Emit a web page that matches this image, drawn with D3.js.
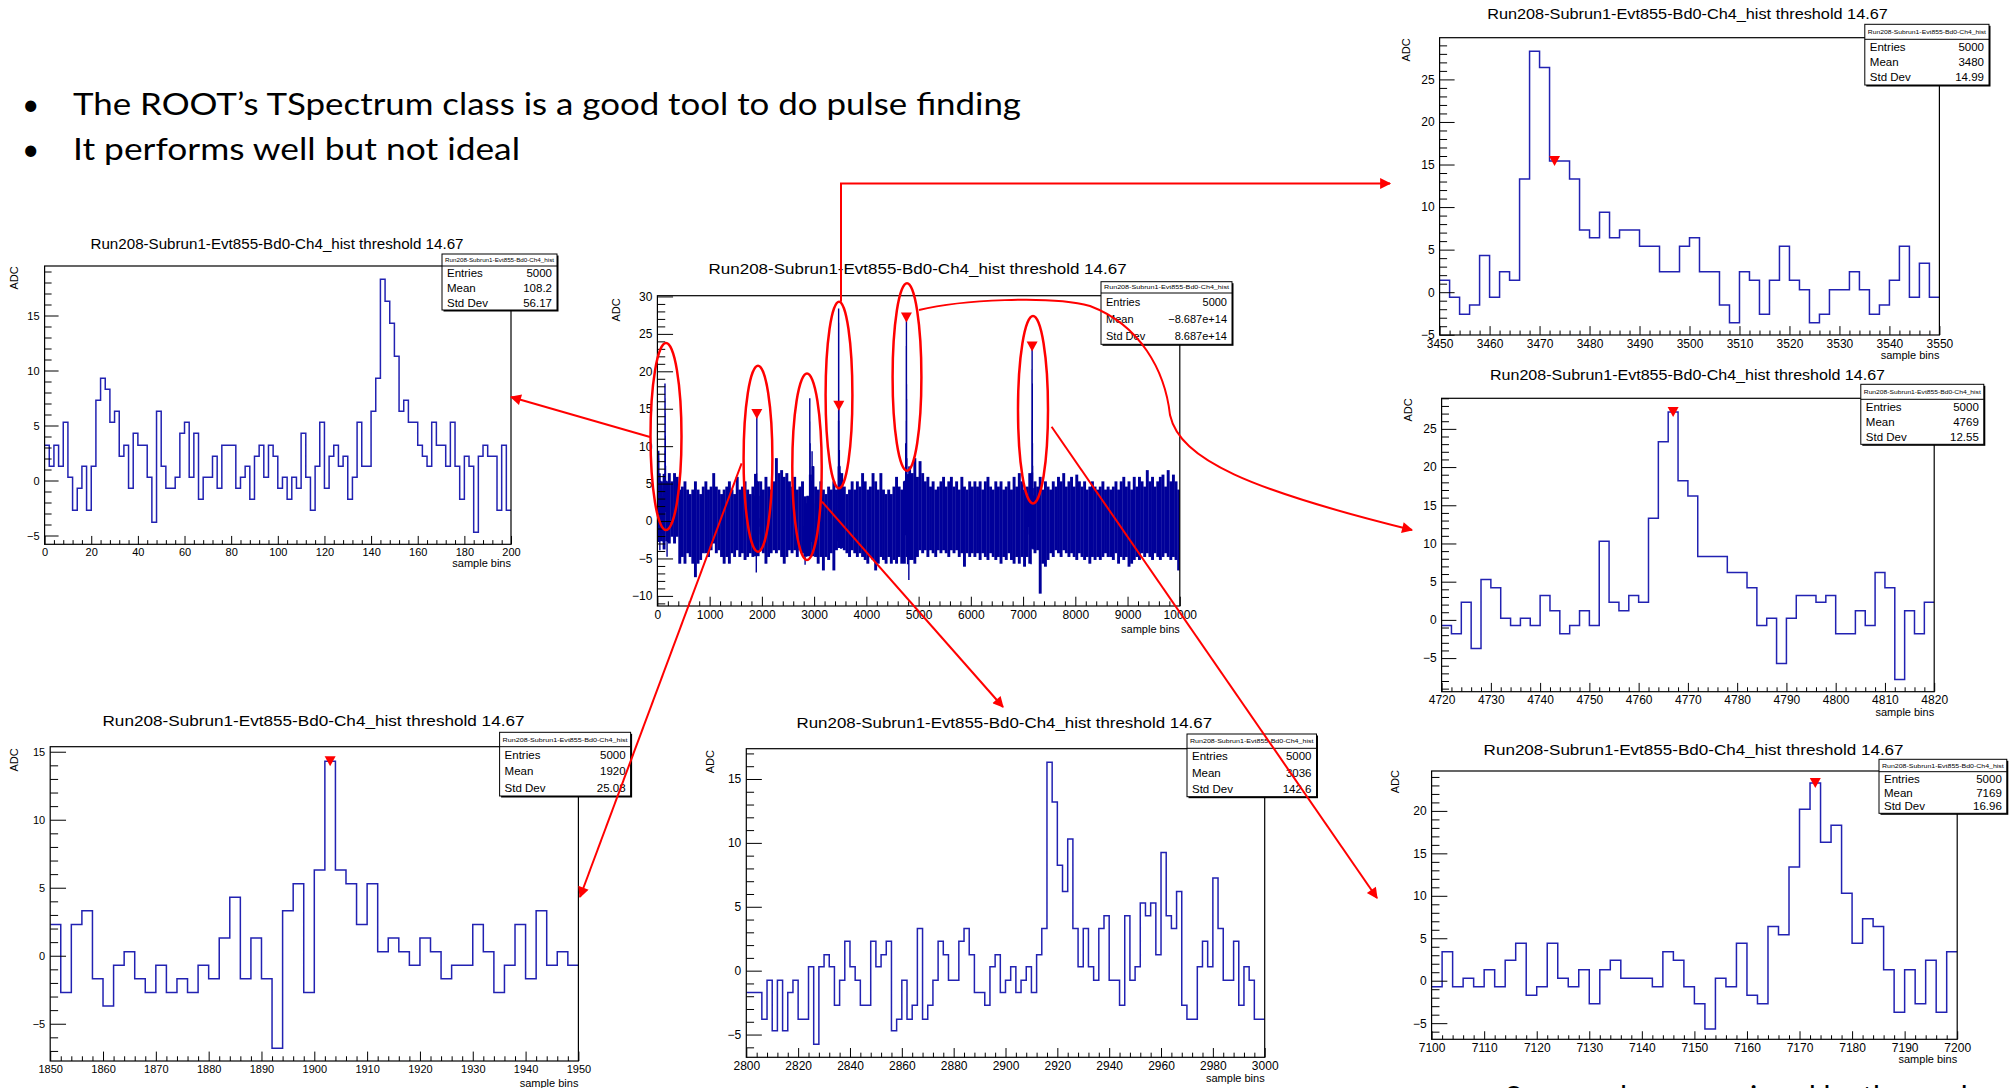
<!DOCTYPE html>
<html>
<head>
<meta charset="utf-8">
<script src="https://cdn.jsdelivr.net/npm/d3@7"></script>
<style>
  body { margin: 0; background: #fff; }
  svg { display: block; }
</style>
</head>
<body>
<svg id="slide" width="2012" height="1088"></svg>
<script>
// ---- data ----
const histTitle = "Run208-Subrun1-Evt855-Bd0-Ch4_hist threshold 14.67";
const histName = "Run208-Subrun1-Evt855-Bd0-Ch4_hist";
const bulletLines = [
  "The ROOT\u2019s TSpectrum class is a good tool to do pulse finding",
  "It performs well but not ideal"
];
const footLine = "Some pulses are missed by the peak search";
const statLabels = ["Entries", "Mean", "Std Dev"];

// zoomed histograms, 2 samples per bin
const binsA = [ // 0 - 200
  3.2, 1.3, 3.2, 1.3, 5.3, 0.3, -2.7, -0.7, 1.3, -2.7,
  1.3, 7.3, 9.3, 8.3, 5.3, 6.3, 2.2, 3.2, -0.7, 4.3,
  3.2, 3.2, 0.3, -3.8, 6.3, 1.3, -0.7, -0.7, 0.3, 4.3,
  5.3, 0.3, 4.3, -1.7, 0.3, 0.3, 2.2, -0.7, 3.2, 3.2,
  3.2, -0.7, 0.3, 1.3, -1.7, 2.2, 3.2, 0.3, 3.2, 2.2,
  -0.7, 0.3, -1.7, 0.3, -0.7, 4.3, 0.3, -2.7, 1.3, 5.3,
  -0.7, 2.2, 3.2, 1.3, 2.2, -1.7, 0.3, 5.3, 1.3, 1.3,
  6.3, 9.3, 18.3, 16.3, 14.3, 11.3, 6.3, 7.3, 5.3, 5.3,
  3.2, 2.2, 1.3, 5.3, 3.2, 3.2, 1.3, 5.3, 1.3, -1.7,
  2.2, 1.3, -4.7, 2.2, 3.2, 2.2, 2.2, -2.7, 3.2, -2.7
];
const binsB = [ // 3450 - 3550
  1.4, -0.6, -2.6, -1.5, 4.3, -0.6, 2.4, 1.4, 13.3, 28.3,
  26.4, 15.4, 15.4, 13.3, 7.3, 6.4, 9.4, 6.4, 7.3, 7.3,
  5.4, 5.4, 2.4, 2.4, 5.4, 6.4, 2.4, 2.4, -1.5, -3.6,
  2.4, 1.4, -2.6, 1.4, 5.4, 1.4, 0.3, -3.6, -2.6, 0.3,
  0.3, 2.4, 0.3, -2.6, -1.5, 1.4, 5.4, -0.6, 3.4, -0.6
];
const binsC = [ // 4720 - 4820
  -0.75, -1.8, 2.3, -3.75, 5.3, 4.2, 0.2, -0.75, 0.2, -0.75,
  3.2, 1.2, -1.8, -0.75, 1.2, -0.75, 10.3, 2.3, 1.2, 3.2,
  2.3, 13.3, 23.3, 27.2, 18.2, 16.2, 8.3, 8.3, 8.3, 6.2,
  6.2, 4.2, -0.75, 0.2, -5.7, 0.2, 3.2, 3.2, 2.3, 3.2,
  -1.8, -1.8, 1.2, -0.75, 6.2, 4.2, -7.8, 1.2, -1.8, 2.3
];
const binsD = [ // 7100 - 7200
  -0.7, 3.4, -0.7, 0.3, -0.7, 1.3, -0.7, 2.4, 4.4, -1.7,
  -0.7, 4.4, 0.3, -0.7, 1.3, -2.7, 1.3, 2.4, 0.3, 0.3,
  0.3, -0.7, 3.4, 2.4, -0.7, -2.7, -5.7, 0.3, -0.7, 4.4,
  -1.7, -2.7, 6.4, 5.4, 13.4, 20.2, 23.3, 16.3, 18.3, 10.3,
  4.4, 7.3, 6.4, 1.3, -3.7, 1.3, -2.7, 2.4, -3.7, 3.4
];
const binsE = [ // 1850 - 1950
  2.3, -2.7, 2.3, 3.3, -1.7, -3.7, -0.7, 0.3, -1.7, -2.7,
  -0.7, -2.7, -1.7, -2.7, -0.7, -1.7, 1.3, 4.3, -1.7, 1.3,
  -1.7, -6.8, 3.3, 5.3, -2.7, 6.3, 14.3, 6.3, 5.3, 2.3,
  5.3, 0.3, 1.3, 0.3, -0.7, 1.3, 0.3, -1.7, -0.7, -0.7,
  2.3, 0.3, -2.7, -0.7, 2.3, -1.7, 3.3, -0.7, 0.3, -0.7
];
const binsF = [ // 2800 - 3000
  -1.7, -1.7, -1.7, -3.8, -0.75, -4.7, -0.75, -4.7, -1.7, -0.75,
  -3.8, -3.8, 0.3, -5.75, 0.3, 1.25, 0.3, -2.7, -0.75, 2.3,
  0.3, -0.75, -2.7, -2.7, 2.3, 0.3, 1.25, 2.3, -4.7, -3.8,
  -0.75, -3.8, -2.7, 3.3, -3.8, -2.7, -0.75, 2.3, 1.25, -0.75,
  -0.75, 2.3, 3.3, 1.25, -1.7, -1.7, -2.7, 0.3, 1.25, -1.7,
  -0.75, 0.3, -1.7, -0.75, 0.3, -1.7, 1.25, 3.3, 16.3, 13.2,
  8.25, 6.2, 10.3, 3.3, 0.3, 3.3, 0.3, -0.75, 3.3, 4.3,
  -0.75, -0.75, -2.7, 4.3, -0.75, 0.3, 5.3, 4.3, 5.3, 1.25,
  9.25, 4.3, 3.3, 6.2, -2.7, -3.8, -3.8, 0.3, 2.3, 0.3,
  7.25, 3.3, -0.75, -0.75, 2.3, -2.7, 0.3, -0.75, -3.8, -3.8
];

// full event 0 - 10000: highest / lowest value seen in each 50-sample slice
const mainHi = [
  6.3, 5.3, 6.3, 5.3, 6.4, 5.3, 6.4, 5.9, 4.2, 4.6,
  5.3, 4.2, 3.6, 4.2, 5.3, 4.2, 3.6, 4.6, 5.3, 4.2,
  4.6, 6.4, 4.6, 4.2, 3.6, 4.2, 4.6, 5.3, 4.2, 3.6,
  5.9, 4.2, 4.6, 5.3, 4.2, 3.6, 4.6, 6.3, 5.3, 5.3,
  4.2, 5.9, 4.6, 4.2, 5.3, 8.4, 6.4, 6.8, 5.9, 6.4,
  5.3, 4.6, 5.9, 4.2, 4.6, 5.3, 3.3, 3.3, 6.2, 7.3,
  4.6, 4.2, 5.3, 4.2, 3.6, 4.6, 4.2, 5.3, 4.2, 7.3,
  6.4, 4.6, 3.6, 4.2, 5.3, 4.2, 5.3, 4.6, 6.4, 5.3,
  4.2, 4.6, 6.4, 5.3, 4.2, 6.4, 4.2, 3.6, 4.2, 3.6,
  4.6, 5.9, 4.6, 4.2, 5.3, 6.2, 7.3, 6.4, 8.4, 5.9,
  8.0, 6.4, 5.3, 5.9, 4.6, 5.3, 4.2, 4.6, 5.3, 5.9,
  4.6, 5.3, 5.9, 4.6, 5.3, 4.2, 5.9, 4.6, 4.2, 5.3,
  4.6, 5.3, 4.6, 5.3, 4.2, 5.3, 5.9, 4.6, 4.2, 5.3,
  4.6, 5.3, 4.2, 4.6, 5.3, 4.2, 5.9, 4.6, 6.4, 5.3,
  4.2, 4.6, 6.4, 4.4, 5.3, 4.6, 5.9, 4.2, 5.3, 4.6,
  4.2, 5.3, 4.6, 5.9, 5.3, 6.4, 4.6, 5.3, 5.9, 4.6,
  6.2, 5.3, 4.6, 5.3, 4.2, 4.6, 5.3, 4.6, 4.2, 4.6,
  5.3, 4.2, 4.6, 4.2, 4.6, 5.3, 4.2, 5.3, 5.9, 4.6,
  5.3, 4.2, 5.9, 4.6, 5.9, 5.3, 4.6, 6.8, 5.3, 5.9,
  4.6, 5.3, 5.9, 6.2, 4.6, 6.8, 5.3, 6.2, 5.3, 4.2
];
const mainLo = [
  -2.7, -2.7, -3.8, -2.7, -3.0, -2.1, -3.0, -2.1, -5.7, -4.8,
  -5.7, -4.3, -4.8, -5.7, -7.5, -5.7, -5.2, -4.3, -4.3, -4.8,
  -3.9, -3.0, -4.3, -3.9, -4.8, -5.7, -4.8, -5.7, -4.3, -4.8,
  -3.9, -4.8, -4.3, -5.2, -4.8, -4.3, -4.8, -4.7, -4.7, -3.9,
  -4.3, -5.7, -4.8, -4.3, -3.9, -4.3, -3.9, -4.8, -5.7, -4.8,
  -3.9, -4.3, -3.9, -4.8, -3.9, -4.3, -4.7, -4.7, -4.7, -4.7,
  -4.8, -5.7, -4.8, -6.6, -4.8, -5.2, -4.3, -6.6, -3.9, -3.6,
  -3.6, -3.9, -4.3, -4.8, -3.9, -4.3, -4.8, -4.3, -4.8, -5.2,
  -5.7, -4.8, -5.2, -6.6, -5.7, -4.8, -5.2, -5.7, -4.8, -5.7,
  -5.2, -5.7, -4.8, -5.7, -5.7, -4.8, -5.2, -5.2, -5.7, -4.8,
  -3.9, -4.3, -3.9, -4.8, -3.9, -4.3, -4.8, -3.9, -4.3, -3.9,
  -4.3, -4.8, -3.9, -4.3, -3.9, -4.8, -4.3, -6.1, -4.3, -4.8,
  -4.3, -4.8, -4.3, -5.2, -4.3, -4.8, -5.2, -4.3, -4.8, -5.2,
  -4.8, -5.7, -4.8, -5.2, -4.3, -5.2, -5.7, -4.8, -5.7, -4.8,
  -6.1, -4.8, -5.7, -3.7, -4.3, -3.9, -9.7, -5.7, -6.1, -5.2,
  -4.3, -4.8, -3.9, -4.3, -4.8, -3.9, -4.3, -4.8, -4.3, -4.8,
  -5.2, -4.3, -4.8, -5.2, -4.8, -5.7, -4.8, -5.2, -4.8, -5.2,
  -4.8, -4.3, -4.8, -4.8, -5.2, -4.3, -5.7, -4.8, -5.2, -4.8,
  -6.1, -5.7, -5.2, -4.8, -5.2, -4.3, -4.8, -4.3, -4.8, -5.2,
  -4.3, -4.8, -5.2, -4.8, -4.3, -4.8, -5.2, -4.8, -5.2, -6.6
];
const sliceWidth = 50;
const binWidth = 2;

// peaks found by TSpectrum [sample, ADC]
const peaks = [[1903, 14.3], [3473, 15.4], [4767, 27.2], [7173, 23.3]];

const statsA = ["5000", "108.2", "56.17"];
const statsM = ["5000", "\u22128.687e+14", "8.687e+14"];
const statsB = ["5000", "3480", "14.99"];
const statsC = ["5000", "4769", "12.55"];
const statsD = ["5000", "7169", "16.96"];
const statsE = ["5000", "1920", "25.08"];
const statsF = ["5000", "3036", "142.6"];

const zooms = [
  { bins: binsA, start: 0 }, { bins: binsE, start: 1850 }, { bins: binsF, start: 2800 },
  { bins: binsB, start: 3450 }, { bins: binsC, start: 4720 }, { bins: binsD, start: 7100 }
];

// ---- layout ----
const FONT = "'Liberation Sans', Arial, Helvetica, sans-serif";
const TEXTFONT = "Lato, 'Open Sans', sans-serif";
const RED = "#ff0000";

const panels = [
  { id: "M", main: true, x0: 657.4, x1: 1179.8, y0: 295.7, y1: 606, xd: [0, 10000], yd: [-11.35, 30.1],
    xt: 1000, xm: 200, box: [1101, 281.7, 1232, 293, 344.3], stats: statsM, sfs: 11,
    title: [917.6, 268, 418], adc: [616, 310], sb: [1179.8, 629] },
  { id: "A", series: zooms[0], x0: 44.6, x1: 511, y0: 266, y1: 544.3, xd: [0, 200], yd: [-5.8, 19.5],
    xt: 20, xm: 4, box: [442, 254, 557, 266, 310], stats: statsA,
    title: [277, 243, 373], adc: [13.5, 278], sb: [511, 563], fs: 11 },
  { id: "B", series: zooms[3], x0: 1439.6, x1: 1939.4, y0: 37.7, y1: 335, xd: [3450, 3550], yd: [-5.03, 29.9],
    xt: 10, xm: 2, box: [1864.8, 24.3, 1989, 39.3, 85], stats: statsB,
    title: [1687.5, 13.3, 400.6], adc: [1406, 50], sb: [1939.4, 355] },
  { id: "C", series: zooms[4], x0: 1441.6, x1: 1934.2, y0: 398.3, y1: 691.7, xd: [4720, 4820], yd: [-9.4, 29.0],
    xt: 10, xm: 2, box: [1860.8, 384.3, 1983.8, 399.3, 444.3], stats: statsC,
    title: [1687.5, 374, 395], adc: [1408, 410], sb: [1934.2, 711.7] },
  { id: "D", series: zooms[5], x0: 1431.6, x1: 1957.2, y0: 771, y1: 1039.3, xd: [7100, 7200], yd: [-6.9, 24.7],
    xt: 10, xm: 2, box: [1879, 759.3, 2006.8, 771.7, 813.3], stats: statsD,
    title: [1693.6, 749, 420], adc: [1395, 781.7], sb: [1957.2, 1059] },
  { id: "E", series: zooms[1], x0: 50.2, x1: 578.4, y0: 746.7, y1: 1061, xd: [1850, 1950], yd: [-7.74, 15.37],
    xt: 10, xm: 2, box: [499.6, 732.3, 630.6, 746.7, 796], stats: statsE,
    title: [313.5, 720.7, 422], adc: [14, 760], sb: [578.4, 1082.7], fs: 11 },
  { id: "F", series: zooms[2], x0: 746.3, x1: 1264.7, y0: 748.7, y1: 1057.3, xd: [2800, 3000], yd: [-6.78, 17.37],
    xt: 20, xm: 4, box: [1187, 734, 1316.5, 748.3, 796.7], stats: statsF,
    title: [1004.3, 722.7, 415.5], adc: [710.4, 761.7], sb: [1264.7, 1078.3] }
];

const svg = d3.select("#slide");
svg.append("rect").attr("width", 2012).attr("height", 1088).attr("fill", "#fff");
const defs = svg.append("defs");
defs.append("marker").attr("id", "arrow").attr("viewBox", "0 0 10 10")
  .attr("refX", 9).attr("refY", 5).attr("markerWidth", 7).attr("markerHeight", 5.5)
  .attr("orient", "auto")
  .append("path").attr("d", "M0,0L10,5L0,10z").attr("fill", RED);

function tickVals(d0, d1, step) {
  const out = [];
  for (let i = Math.ceil(d0 / step - 1e-9); i * step <= d1 + 1e-9; i++) out.push(+(i * step).toFixed(6));
  return out;
}

function stepPath(s, x, y) {
  const pts = s.bins.map((v, i) => [s.start + i * binWidth, v]);
  pts.push([s.start + s.bins.length * binWidth, s.bins[s.bins.length - 1]]);
  return d3.line().x(d => x(d[0])).y(d => y(d[1])).curve(d3.curveStepAfter)(pts);
}

function drawPanel(p) {
  const g = svg.append("g");
  const x = d3.scaleLinear().domain(p.xd).range([p.x0, p.x1]);
  const y = d3.scaleLinear().domain(p.yd).range([p.y1, p.y0]);
  const W = p.x1 - p.x0, H = p.y1 - p.y0;
  const fs = p.fs || 12;

  defs.append("clipPath").attr("id", "clip" + p.id)
    .append("rect").attr("x", p.x0).attr("y", p.y0).attr("width", W).attr("height", H);
  const plot = g.append("g").attr("clip-path", `url(#clip${p.id})`);

  if (p.main) {
    plot.selectAll("rect.env").data(mainHi).enter().append("rect")
      .attr("class", "env")
      .attr("x", (d, i) => x(i * sliceWidth))
      .attr("width", (d, i) => x((i + 1) * sliceWidth) - x(i * sliceWidth) + 0.3)
      .attr("y", d => y(d))
      .attr("height", (d, i) => y(mainLo[i]) - y(d))
      .attr("fill", "#000099");
    zooms.forEach(s => plot.append("path").attr("d", stepPath(s, x, y))
      .attr("fill", "none").attr("stroke", "#000099").attr("stroke-width", 1.3));
  } else {
    plot.append("path").attr("d", stepPath(p.series, x, y))
      .attr("fill", "none").attr("stroke", "#2222b2").attr("stroke-width", 1.5);
  }

  // peak markers
  peaks.filter(d => d[0] >= p.xd[0] && d[0] <= p.xd[1]).forEach(d => {
    const cx = x(d[0]), cy = y(d[1]);
    g.append("path").attr("d", `M${cx - 5.5},${cy - 5}L${cx + 5.5},${cy - 5}L${cx},${cy + 5}Z`).attr("fill", RED);
  });

  g.append("rect").attr("x", p.x0).attr("y", p.y0).attr("width", W).attr("height", H)
    .attr("fill", "none").attr("stroke", "#000").attr("stroke-width", 1.2);

  // axes, ROOT style ticks inside the frame
  const yMaj = tickVals(p.yd[0], p.yd[1], 5);
  const yMin = tickVals(p.yd[0], p.yd[1], 1).filter(v => !yMaj.includes(v));
  const xMaj = tickVals(p.xd[0], p.xd[1], p.xt);
  const xMin = tickVals(p.xd[0], p.xd[1], p.xm).filter(v => !xMaj.includes(v));
  const fmt = d3.format("d");
  const style = a => {
    a.select(".domain").remove();
    a.attr("font-family", FONT).attr("font-size", fs);
    a.selectAll("line").attr("stroke", "#000");
  };
  g.append("g").attr("transform", `translate(${p.x0},0)`)
    .call(d3.axisLeft(y).tickValues(yMin).tickSize(-0.015 * W).tickFormat("")).call(style);
  g.append("g").attr("transform", `translate(${p.x0},0)`)
    .call(d3.axisLeft(y).tickValues(yMaj).tickSize(-0.03 * W).tickPadding(5).tickFormat(fmt)).call(style);
  g.append("g").attr("transform", `translate(0,${p.y1})`)
    .call(d3.axisBottom(x).tickValues(xMin).tickSize(-0.015 * H).tickFormat("")).call(style);
  g.append("g").attr("transform", `translate(0,${p.y1})`)
    .call(d3.axisBottom(x).tickValues(xMaj).tickSize(-0.03 * H).tickPadding(4).tickFormat(fmt)).call(style);

  // axis titles
  g.append("text").attr("transform", `translate(${p.adc[0]},${p.adc[1]}) rotate(-90)`)
    .attr("text-anchor", "middle").attr("dominant-baseline", "central")
    .attr("font-family", FONT).attr("font-size", 11).text("ADC");
  g.append("text").attr("x", p.sb[0]).attr("y", p.sb[1]).attr("text-anchor", "end")
    .attr("dominant-baseline", "central").attr("font-family", FONT).attr("font-size", 11).text("sample bins");

  // title
  const [tx, ty, tw] = p.title;
  g.append("text").attr("x", tx - tw / 2).attr("y", ty).attr("dominant-baseline", "central")
    .attr("font-family", FONT).attr("font-size", 15.5)
    .attr("textLength", tw).attr("lengthAdjust", "spacingAndGlyphs").text(histTitle);

  // stats box
  const [bx0, by0, bx1, bh, by1] = p.box;
  const sfs = p.sfs || 11.5;
  g.append("rect").attr("x", bx0 + 1.5).attr("y", by0 + 1.5).attr("width", bx1 - bx0).attr("height", by1 - by0).attr("fill", "#000");
  g.append("rect").attr("x", bx0).attr("y", by0).attr("width", bx1 - bx0).attr("height", by1 - by0)
    .attr("fill", "#fff").attr("stroke", "#000").attr("stroke-width", 1);
  g.append("line").attr("x1", bx0).attr("x2", bx1).attr("y1", bh).attr("y2", bh).attr("stroke", "#000");
  g.append("text").attr("x", bx0 + 3).attr("y", (by0 + bh) / 2).attr("dominant-baseline", "central")
    .attr("font-family", FONT).attr("font-size", 6).attr("textLength", bx1 - bx0 - 6)
    .attr("lengthAdjust", "spacingAndGlyphs").text(histName);
  statLabels.forEach((lab, i) => {
    const ry = bh + (by1 - bh) * (2 * i + 1) / 6;
    g.append("text").attr("x", bx0 + 5).attr("y", ry).attr("dominant-baseline", "central")
      .attr("font-family", FONT).attr("font-size", sfs).text(lab);
    g.append("text").attr("x", bx1 - 5).attr("y", ry).attr("dominant-baseline", "central")
      .attr("text-anchor", "end").attr("font-family", FONT).attr("font-size", sfs).text(p.stats[i]);
  });
}

panels.forEach(drawPanel);

// bullet text
bulletLines.forEach((t, i) => {
  const by = 115 + i * 45;
  svg.append("text").attr("x", 22).attr("y", by).attr("font-family", TEXTFONT).attr("font-size", 30).text("\u2022");
  svg.append("text").attr("x", 73).attr("y", by).attr("font-family", TEXTFONT).attr("font-size", 30)
    .attr("textLength", i === 0 ? 948 : 447).attr("lengthAdjust", "spacingAndGlyphs").text(t);
});
// the slide's closing remark is cut by the bottom edge of the page
svg.append("text").attr("x", 1505).attr("y", 1108).attr("font-family", TEXTFONT).attr("font-size", 30).text(footLine);

// red annotations
const ann = svg.append("g").attr("fill", "none").attr("stroke", RED);
const rings = [[666, 436.5, 15.5, 93.5], [758, 458.7, 14.4, 93], [807, 466.7, 14.7, 93.3],
               [839, 395, 13.4, 93.3], [907, 377, 14.4, 93.7], [1033, 409.7, 15, 93.7]];
rings.forEach(r => ann.append("ellipse").attr("cx", r[0]).attr("cy", r[1]).attr("rx", r[2]).attr("ry", r[3]).attr("stroke-width", 2.5));
const arrows = [
  "M650,437L511,397",
  "M841,301.7L841,183.5L1390,183.5",
  "M919,310C960,300 1050,295 1090,306C1140,325 1165,370 1170,415C1180,460 1250,490 1412,530",
  "M741.6,463.3L580,897",
  "M822,501.7L1003,707",
  "M1051.6,426.7L1377,898"
];
arrows.forEach(d => ann.append("path").attr("d", d).attr("stroke-width", 2).attr("marker-end", "url(#arrow)"));
</script>
</body>
</html>
